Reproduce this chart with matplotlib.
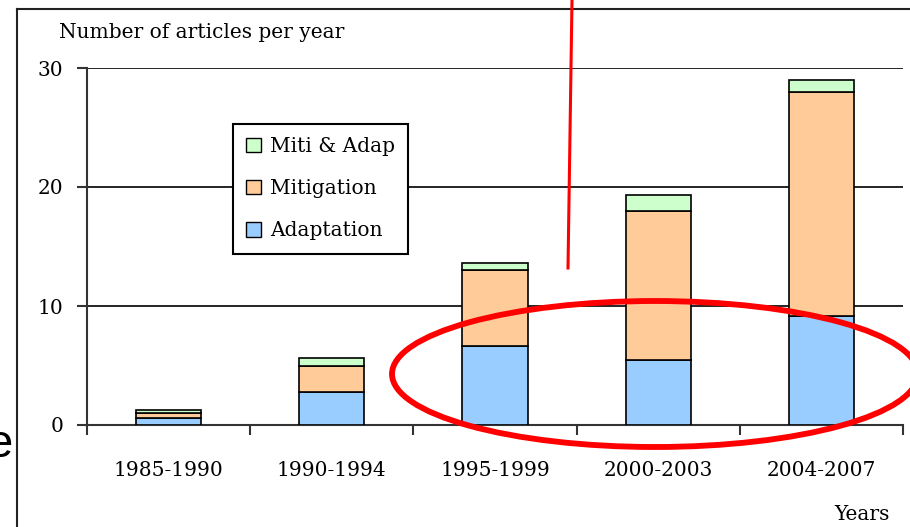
import matplotlib
matplotlib.use('Agg')
import matplotlib.pyplot as plt
from matplotlib.patches import Patch, Ellipse

periods = ['1985-1990', '1990-1994', '1995-1999', '2000-2003', '2004-2007']
adaptation = [0.6, 2.8, 6.6, 5.5, 9.2]
mitigation = [0.4, 2.2, 6.4, 12.5, 18.8]
miti_adap = [0.25, 0.6, 0.6, 1.3, 1.0]

c_adap = '#99CCFF'
c_miti = '#FFCC99'
c_both = '#CCFFCC'

plt.rcParams['font.family'] = ['DejaVu Serif']
fs = 14.5

W, H = 910, 527
fig = plt.figure(figsize=(W / 100, H / 100), dpi=100)
ax = fig.add_axes([87 / W, (H - 425) / H, (903 - 87) / W, (425 - 68) / H])

x = list(range(len(periods)))
bottom2 = [a + m for a, m in zip(adaptation, mitigation)]
ax.bar(x, adaptation, width=0.4, color=c_adap, edgecolor='black', lw=1.2, zorder=3)
ax.bar(x, mitigation, width=0.4, bottom=adaptation, color=c_miti, edgecolor='black', lw=1.2, zorder=3)
ax.bar(x, miti_adap, width=0.4, bottom=bottom2, color=c_both, edgecolor='black', lw=1.2, zorder=3)

ax.set_xlim(-0.5, len(periods) - 0.5)
ax.set_ylim(0, 30)
for y in [10, 20, 30]:
    ax.axhline(y, color='black', lw=1.2, zorder=1)

for s in ['top', 'right']:
    ax.spines[s].set_visible(False)
ax.spines['left'].set_linewidth(1.5)
ax.spines['bottom'].set_linewidth(1.5)
ax.spines['bottom'].set_color('#333333')
ax.spines['left'].set_color('#333333')

ax.set_yticks([0, 10, 20, 30])
ax.tick_params(axis='y', direction='out', length=7, width=1.5, pad=10, labelsize=fs, color='#333333')
ax.set_xticks(x)
ax.set_xticklabels(periods)
ax.set_xticks([i - 0.5 for i in range(len(periods) + 1)], minor=True)
ax.tick_params(axis='x', which='major', length=0, pad=26, labelsize=fs)
ax.tick_params(axis='x', which='minor', direction='out', length=7, width=1.5, color='#333333')

handles = [Patch(facecolor=c_both, edgecolor='black', label='Miti & Adap'),
           Patch(facecolor=c_miti, edgecolor='black', label='Mitigation'),
           Patch(facecolor=c_adap, edgecolor='black', label='Adaptation')]
leg = ax.legend(handles=handles, loc='upper left', bbox_to_anchor=((233 - 87) / 816, (425 - 124) / 357),
                fontsize=fs, frameon=True, fancybox=False, edgecolor='black', framealpha=1,
                handlelength=0.72, handleheight=0.72, handletextpad=0.45, labelspacing=1.15,
                borderpad=0.65, borderaxespad=0)
leg.get_frame().set_linewidth(1.5)
leg.set_zorder(5)

fig.text(59 / W, 1 - 32 / H, 'Number of articles per year', fontsize=fs, va='center', ha='left')
fig.text(890 / W, 1 - 514 / H, 'Years', fontsize=fs, va='center', ha='right')

# overlay in pixel coordinates for slide frame and red markup
ov = fig.add_axes([0, 0, 1, 1], zorder=10)
ov.set_xlim(0, W)
ov.set_ylim(H, 0)
ov.axis('off')
ov.plot([17, 17], [9, H], color='#222222', lw=1.5)
ov.plot([17, W], [9, 9], color='#222222', lw=1.5)
ov.plot([572, 568], [0, 268], color='#FF0000', lw=2.2)
ov.add_patch(Ellipse((655, 374), 526, 146, fill=False, edgecolor='#FF0000', lw=4.2))
ov.text(13, 445, 'e', fontsize=34, family='Liberation Sans', ha='right', va='center')

fig.savefig('out.png', dpi=100)
